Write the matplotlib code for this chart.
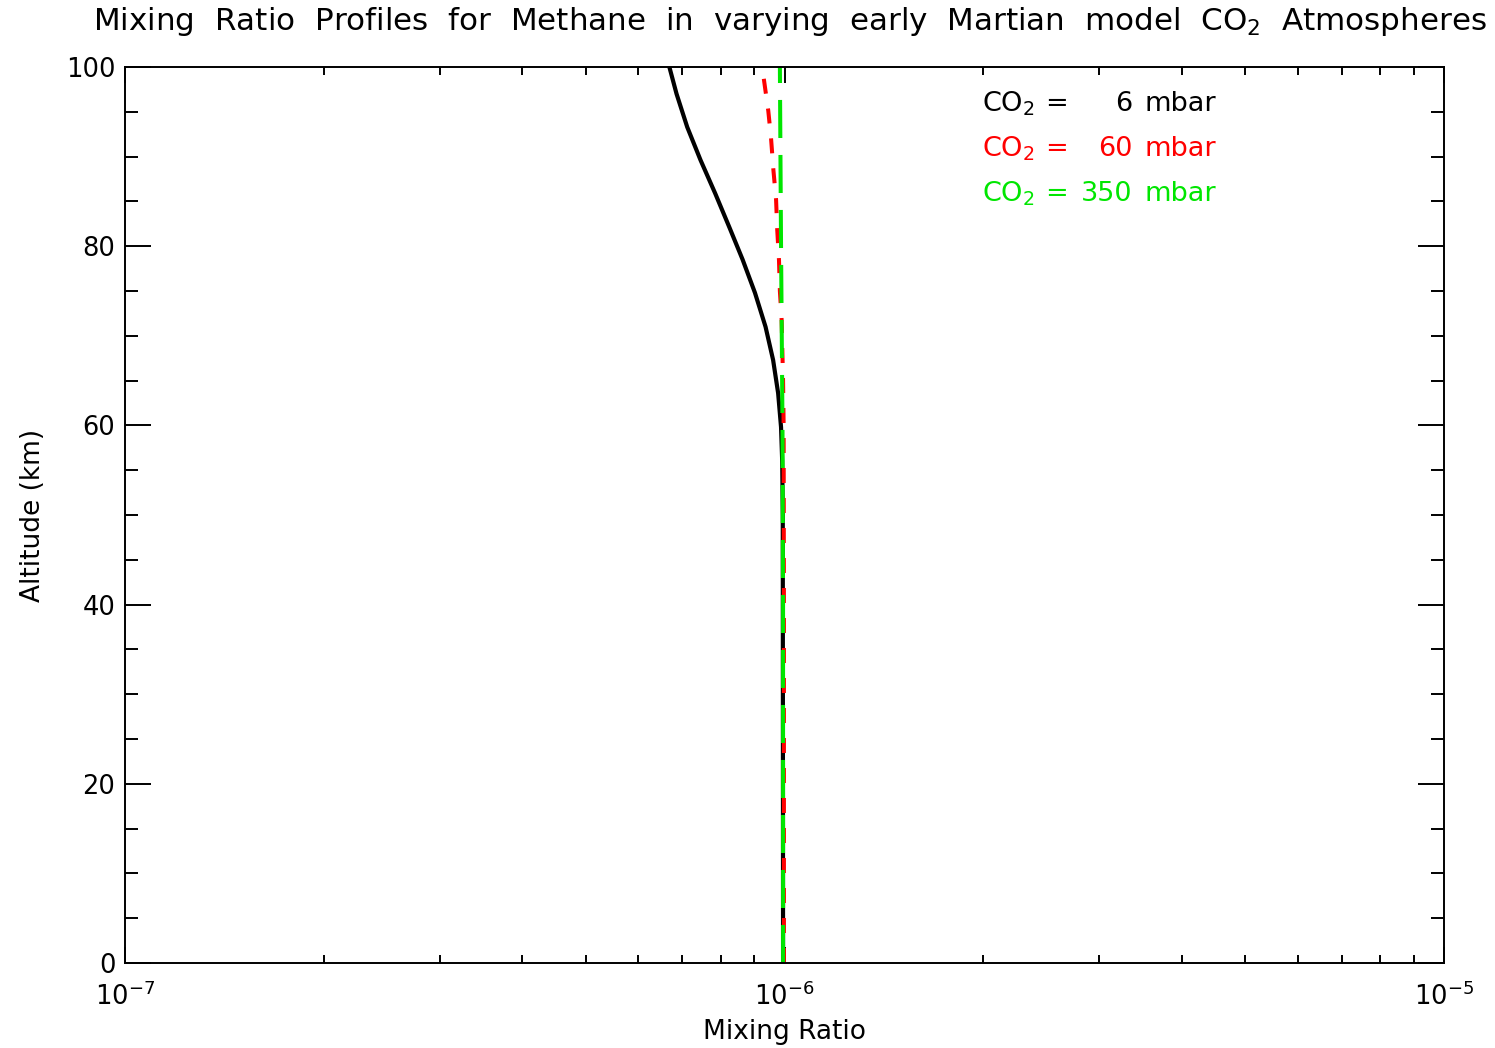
import matplotlib
matplotlib.use("Agg")
import matplotlib.pyplot as plt
from matplotlib.ticker import LogLocator, MultipleLocator, NullFormatter

plt.rcParams['font.family'] = ['DejaVu Sans']
plt.rcParams['lines.scale_dashes'] = False
plt.rcParams['mathtext.fontset'] = 'dejavusans'

# --- data ---
alt_6 = [0, 50, 56.0, 59.8, 63.6, 67.3, 71.0, 74.8, 78.5, 82.1, 85.9, 89.6, 93.3, 97.0, 100]
mr_6 = [9.95e-7, 9.94e-7, 9.92e-7, 9.88e-7, 9.78e-7, 9.61e-7, 9.36e-7, 9.02e-7, 8.64e-7,
        8.25e-7, 7.85e-7, 7.46e-7, 7.12e-7, 6.86e-7, 6.69e-7]

alt_60 = [0, 20, 40, 60, 65, 71.8, 75, 78.4, 81.8, 85.2, 88.5, 92.1, 95.1, 100]
mr_60 = [9.98e-7, 9.98e-7, 9.98e-7, 9.97e-7, 9.95e-7, 9.90e-7, 9.84e-7, 9.81e-7, 9.75e-7,
         9.71e-7, 9.62e-7, 9.54e-7, 9.45e-7, 9.25e-7]

alt_350 = [0, 20, 40, 60, 80, 100]
mr_350 = [9.95e-7, 9.95e-7, 9.95e-7, 9.93e-7, 9.88e-7, 9.84e-7]

legend_labels = ["6", "60", "350"]
colors = ["black", "#ff0000", "#00e600"]

fig = plt.figure(figsize=(14.95, 10.48), dpi=100)
ax = fig.add_axes([125/1495, 1-963/1048, (1444-125)/1495, (963-67)/1048])

ax.plot(mr_6, alt_6, color=colors[0], lw=3.0, solid_joinstyle='round')
ax.plot(mr_60, alt_60, color=colors[1], lw=2.9, dashes=(10.8, 10.8))
ax.plot(mr_350, alt_350, color=colors[2], lw=2.9, dashes=(27.4, 12.2))

ax.set_xscale('log')
ax.set_xlim(1e-7, 1e-5)
ax.set_ylim(0, 100)
ax.xaxis.set_major_locator(LogLocator(base=10, numticks=10))
ax.xaxis.set_minor_locator(LogLocator(base=10, subs=range(2, 10), numticks=20))
ax.xaxis.set_minor_formatter(NullFormatter())
ax.yaxis.set_major_locator(MultipleLocator(20))
ax.yaxis.set_minor_locator(MultipleLocator(5))

for s in ax.spines.values():
    s.set_linewidth(1.4)

ax.tick_params(axis='both', which='both', direction='in', top=True, right=True, width=1.4)
ax.tick_params(axis='y', which='major', length=18.7, labelsize=18.5, pad=7)
ax.tick_params(axis='y', which='minor', length=9.4)
ax.tick_params(axis='x', which='major', length=11.5, labelsize=18.5, pad=14)
ax.tick_params(axis='x', which='minor', length=5.8)

ax.set_xlabel("Mixing Ratio", fontsize=19, labelpad=6)
ax.set_ylabel("Altitude (km)", fontsize=19, labelpad=14)

fig.text(790/1495, 1-21/1048, "Mixing  Ratio  Profiles  for  Methane  in  varying  early  Martian  model  CO$_2$  Atmospheres",
         fontsize=22.3, ha='center', va='center')

# legend text
for i, (lab, c) in enumerate(zip(legend_labels, colors)):
    y = 1 - (104 + 45*i - 67) / (963 - 67)
    ax.text((982-125)/1319, y, "CO$_2$", color=c, fontsize=19.5, transform=ax.transAxes, ha='left', va='center')
    ax.text((1057-125)/1319, y, "=", color=c, fontsize=19.5, transform=ax.transAxes, ha='center', va='center')
    ax.text((1132-125)/1319, y, lab, color=c, fontsize=19.5, transform=ax.transAxes, ha='right', va='center')
    ax.text((1145-125)/1319, y, "mbar", color=c, fontsize=19.5, transform=ax.transAxes, ha='left', va='center')

fig.savefig("out.png", dpi=100)
